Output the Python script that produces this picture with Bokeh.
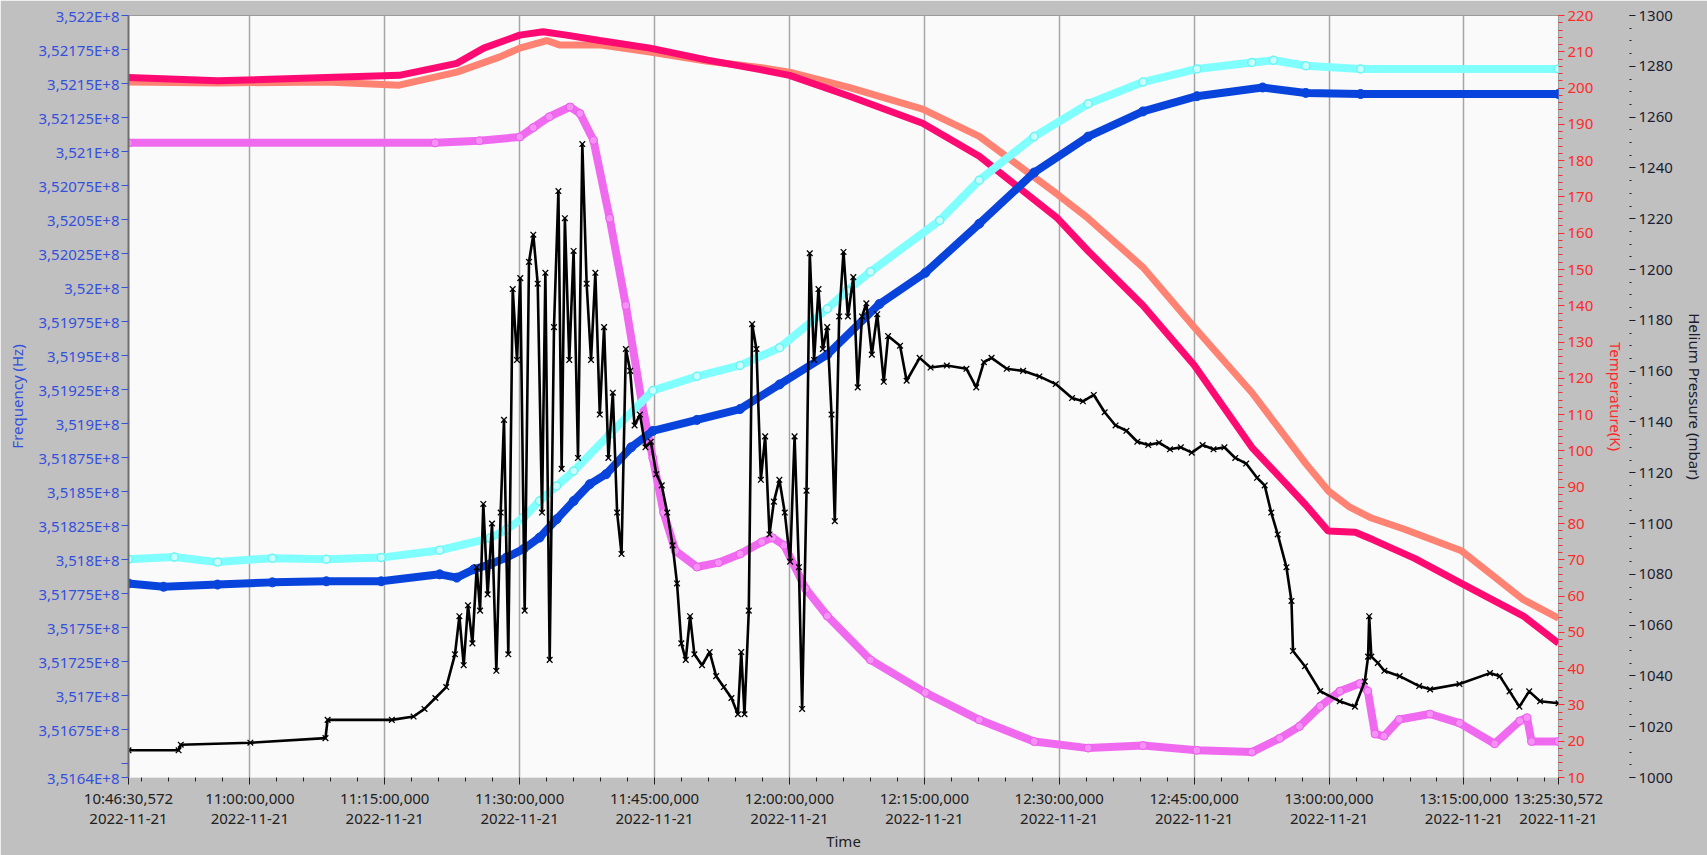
import pandas as pd
from bokeh.plotting import figure
from bokeh.models import Range1d, LinearAxis, FixedTicker, Grid
from bokeh.embed import file_html
from bokeh.resources import INLINE

# ---------------- data ----------------
START = "2022-11-21 10:46:30.572"
END = "2022-11-21 13:25:30.572"

X_TICK_TIMES = ["2022-11-21 10:46:30.572", "2022-11-21 11:00:00", "2022-11-21 11:15:00",
                "2022-11-21 11:30:00", "2022-11-21 11:45:00", "2022-11-21 12:00:00",
                "2022-11-21 12:15:00", "2022-11-21 12:30:00", "2022-11-21 12:45:00",
                "2022-11-21 13:00:00", "2022-11-21 13:15:00", "2022-11-21 13:25:30.572"]
X_TICK_LABELS = ["10:46:30,572\n2022-11-21", "11:00:00,000\n2022-11-21", "11:15:00,000\n2022-11-21",
                 "11:30:00,000\n2022-11-21", "11:45:00,000\n2022-11-21", "12:00:00,000\n2022-11-21",
                 "12:15:00,000\n2022-11-21", "12:30:00,000\n2022-11-21", "12:45:00,000\n2022-11-21",
                 "13:00:00,000\n2022-11-21", "13:15:00,000\n2022-11-21", "13:25:30,572\n2022-11-21"]

FREQ_TICKS = [351640000, 351650000, 351675000, 351700000, 351725000, 351750000, 351775000,
              351800000, 351825000, 351850000, 351875000, 351900000, 351925000, 351950000,
              351975000, 352000000, 352025000, 352050000, 352075000, 352100000, 352125000,
              352150000, 352175000, 352200000]
FREQ_TICK_LABELS = ["3,5164E+8", "", "3,51675E+8", "3,517E+8", "3,51725E+8", "3,5175E+8", "3,51775E+8",
                    "3,518E+8", "3,51825E+8", "3,5185E+8", "3,51875E+8", "3,519E+8", "3,51925E+8", "3,5195E+8",
                    "3,51975E+8", "3,52E+8", "3,52025E+8", "3,5205E+8", "3,52075E+8", "3,521E+8", "3,52125E+8",
                    "3,5215E+8", "3,52175E+8", "3,522E+8"]
TEMP_TICKS = [10, 20, 30, 40, 50, 60, 70, 80, 90, 100, 110, 120, 130, 140, 150, 160, 170, 180, 190, 200, 210, 220]
PRESS_TICKS = [1000, 1020, 1040, 1060, 1080, 1100, 1120, 1140, 1160, 1180, 1200, 1220, 1240, 1260, 1280, 1300]

# minutes after 10:46:30.572
PINK_MIN = [0, 9.9, 22.0, 30.1, 36.5, 39.5, 43.5, 46.1, 48.7, 52.4, 58.0, 64.4, 70.4, 73.5, 80.1, 88.3,
            94.6, 103.3, 106.7, 112.8, 118.5, 124.9, 130.9, 133.4, 136.4, 138.4, 143.0, 148.2, 155.1, 159.0]
PINK_K = [202.9, 202.0, 202.9, 203.5, 206.8, 211.0, 214.6, 215.5, 214.6, 213.1, 211.0, 207.7, 205.0, 203.5,
          197.8, 190.3, 181.2, 164.1, 155.1, 140.1, 123.6, 101.0, 85.1, 77.9, 77.6, 75.5, 70.4, 63.5, 54.5, 47.0]

SALMON_MIN = [0, 9.9, 22.0, 30.1, 36.5, 41.3, 43.5, 46.5, 47.9, 52.4, 58.0, 64.4, 70.4, 73.5, 80.1, 88.3,
              94.6, 103.3, 106.7, 112.8, 118.5, 124.9, 130.9, 133.4, 135.8, 138.2, 141.8, 148.2, 155.1, 159.0]
SALMON_K = [201.7, 201.4, 201.7, 200.8, 204.4, 208.6, 211.0, 213.1, 211.9, 211.9, 209.9, 207.4, 205.6, 204.4,
            200.2, 194.2, 186.7, 170.7, 164.1, 150.6, 134.1, 116.1, 96.5, 89.0, 84.5, 81.5, 78.5, 72.5, 59.0, 53.9]

MAG_MIN = [0, 34.1, 39.0, 43.5, 45.0, 46.8, 49.1, 50.2, 51.7, 53.5, 55.3, 57.1, 58.3, 59.5, 60.8, 63.2,
           65.6, 68.0, 70.4, 71.6, 72.9, 75.3, 77.7, 82.5, 88.6, 94.6, 100.7, 106.7, 112.8, 118.8, 124.9,
           128.0, 130.2, 132.5, 134.7, 136.9, 137.8, 138.6, 139.6, 141.3, 144.7, 148.0, 151.9, 154.7,
           155.5, 156.0, 159.0]
MAG_K = [184.9, 184.9, 185.5, 186.5, 189.1, 192.1, 194.8, 193.0, 185.6, 164.1, 140.1, 113.0, 98.0, 83.0,
         72.5, 68.0, 69.2, 71.6, 74.9, 76.1, 74.0, 62.0, 54.5, 42.4, 33.4, 25.9, 19.9, 18.1, 18.8, 17.5,
         17.0, 20.8, 24.1, 29.6, 33.8, 35.9, 33.8, 22.0, 21.4, 26.0, 27.5, 25.0, 19.3, 25.6, 26.5, 19.9, 19.9]

CYAN_MIN = [0, 5.1, 9.9, 16.0, 22.0, 28.1, 34.6, 40.2, 42.0, 43.9, 45.7, 47.6, 49.5, 53.5, 58.3, 63.2,
            68.0, 72.4, 77.7, 79.9, 82.5, 90.2, 94.6, 100.7, 106.7, 112.8, 118.8, 124.9, 127.3, 130.9,
            137.0, 159.0]
CYAN_HZ = [351800400, 351802000, 351798300, 351801200, 351800400, 351801600, 351807000, 351816000,
           351822000, 351831000, 351843200, 351854300, 351865300, 351892300, 351924400, 351934800,
           351942800, 351955900, 351984500, 351997800, 352011700, 352049400, 352079000, 352111000,
           352135100, 352151100, 352160700, 352165500, 352167100, 352163100, 352160700, 352160700]

BLUE_MIN = [0, 3.9, 9.9, 16.0, 22.0, 28.1, 34.6, 36.5, 38.4, 40.2, 42.0, 43.9, 45.7, 47.6, 49.5, 51.3,
            53.1, 55.9, 58.3, 63.2, 68.0, 72.4, 77.7, 83.5, 88.6, 94.6, 100.7, 106.7, 112.8, 118.8,
            126.1, 130.9, 137.0, 159.0]
BLUE_HZ = [351782600, 351780200, 351781800, 351783400, 351784200, 351784200, 351789300, 351786900,
           351793000, 351796700, 351801600, 351807800, 351816300, 351829800, 351843200, 351855600,
           351862900, 351882700, 351894700, 351902800, 351910800, 351928900, 351950800, 351988000,
           352010900, 352047000, 352084600, 352111000, 352129500, 352140700, 352147100, 352143100,
           352142300, 352142300]

PRESS_MIN = [0, 5.57, 5.81, 13.55, 21.90, 22.14, 29.28, 31.70, 32.91, 34.12, 35.33, 36.30, 36.79, 37.27,
             37.75, 38.24, 38.72, 39.09, 39.45, 39.93, 40.42, 40.90, 41.38, 41.75, 42.23, 42.72, 43.20,
             43.56, 44.05, 44.53, 45.01, 45.50, 45.98, 46.35, 46.83, 47.31, 47.80, 48.16, 48.52, 49.01,
             49.49, 49.98, 50.46, 50.94, 51.43, 51.91, 52.40, 52.88, 53.36, 53.85, 54.33, 54.82, 55.30,
             55.78, 56.27, 56.87, 57.48, 58.08, 58.69, 59.29, 59.90, 60.50, 60.99, 61.47, 61.96, 62.44,
             62.92, 63.77, 64.62, 65.34, 66.19, 67.04, 67.76, 68.13, 68.49, 68.97, 69.34, 69.82, 70.31,
             70.79, 71.27, 71.76, 72.37, 72.97, 73.57, 74.06, 74.54, 74.90, 75.39, 75.75, 76.23, 76.72,
             77.20, 77.69, 78.17, 78.53, 79.02, 79.50, 79.99, 80.59, 81.08, 81.56, 82.04, 82.65, 83.25,
             83.98, 84.46, 85.79, 86.52, 87.97, 89.18, 90.99, 93.17, 94.26, 95.11, 95.96, 97.65, 99.47,
             101.28, 103.10, 104.91, 106.12, 107.33, 108.54, 109.75, 110.96, 112.17, 113.38, 114.59,
             115.80, 117.01, 118.22, 119.43, 120.64, 121.85, 123.06, 124.27, 125.48, 126.33, 127.06,
             127.78, 128.75, 129.31, 129.48, 130.81, 132.50, 134.68, 136.37, 137.46, 137.83, 137.95,
             138.19, 138.91, 139.64, 141.34, 143.51, 144.72, 147.99, 151.38, 152.47, 153.56, 154.65,
             155.74, 156.95, 159.0]
PRESS_MBAR = [1010.7, 1010.7, 1012.9, 1013.7, 1015.5, 1022.7, 1022.7, 1024.0, 1027.0, 1031.3, 1035.6,
              1048.5, 1063.5, 1044.2, 1067.8, 1052.8, 1082.8, 1065.7, 1107.7, 1072.1, 1100.0, 1042.0,
              1104.3, 1140.8, 1048.5, 1192.3, 1164.4, 1196.6, 1065.7, 1203.0, 1213.7, 1194.4, 1104.3,
              1198.7, 1046.3, 1177.3, 1230.9, 1121.5, 1220.2, 1164.4, 1207.3, 1125.8, 1249.4, 1194.4,
              1164.4, 1198.7, 1142.9, 1177.3, 1125.8, 1151.5, 1104.3, 1088.0, 1168.7, 1160.1, 1138.6,
              1142.9, 1130.0, 1132.2, 1119.4, 1115.0, 1104.3, 1091.4, 1076.4, 1052.8, 1046.3, 1063.5,
              1048.5, 1044.2, 1049.4, 1039.9, 1035.6, 1031.3, 1024.9, 1049.4, 1024.9, 1065.7, 1178.5,
              1168.7, 1117.2, 1134.3, 1095.7, 1108.6, 1117.2, 1104.3, 1085.0, 1134.3, 1082.8, 1027.0,
              1112.9, 1206.4, 1164.4, 1192.3, 1168.7, 1177.3, 1142.9, 1100.9, 1181.5, 1206.9, 1181.5,
              1197.0, 1153.6, 1181.5, 1186.7, 1166.5, 1182.4, 1155.8, 1173.8, 1170.0, 1156.2, 1165.2,
              1161.4, 1162.2, 1160.9, 1153.6, 1163.5, 1165.2, 1160.9, 1160.1, 1157.9, 1154.9, 1149.4,
              1148.1, 1150.6, 1143.8, 1138.6, 1136.5, 1132.2, 1130.9, 1131.8, 1129.2, 1130.0, 1127.9,
              1130.9, 1129.2, 1130.0, 1125.8, 1123.6, 1118.0, 1115.0, 1104.3, 1095.7, 1082.8, 1069.5,
              1049.8, 1043.8, 1034.0, 1030.0, 1027.9, 1037.8, 1047.6, 1063.5, 1047.6, 1045.1, 1042.0,
              1039.9, 1036.0, 1034.7, 1036.8, 1041.1, 1039.9, 1033.9, 1027.9, 1033.9, 1030.0, 1029.2]

# ---------------- helpers ----------------
def ms(ts):
    return int(pd.Timestamp(ts).value // 1_000_000)

T0, T1 = ms(START), ms(END)

def xs(minutes):
    return [T0 + int(round(m * 60000)) for m in minutes]

FONT = "Noto Sans"
BLUE_TXT = "#3450dc"
RED_TXT = "#ff2a2a"
DARK_TXT = "#1c1c30"

x_ticks = [ms(t) for t in X_TICK_TIMES]
x_minor = [ms("2022-11-21 10:48:00") + i * 180000 for i in range(53)]
xticker = FixedTicker(ticks=x_ticks, minor_ticks=x_minor)

p = figure(width=1707, height=855, output_backend="svg", toolbar_location=None,
           x_range=Range1d(T0, T1), y_range=Range1d(351640000, 352200000),
           x_axis_type=None, y_axis_type=None,
           min_border_left=128, min_border_right=148, min_border_top=15, min_border_bottom=78,
           background_fill_color="#fafafa", border_fill_color="#c0c0c0",
           outline_line_color="#9a9a9a", outline_line_width=1)
p.extra_y_ranges = {"temp": Range1d(10, 220), "press": Range1d(1000, 1300)}

p.add_layout(Grid(dimension=0, ticker=xticker, grid_line_color="#a6a6a6", grid_line_width=1.5))

def style_axis(ax, color, tick_color):
    ax.major_label_text_font = FONT
    ax.major_label_text_font_size = "15px"
    ax.major_label_text_color = color
    ax.axis_label_text_font = FONT
    ax.axis_label_text_font_size = "15px"
    ax.axis_label_text_font_style = "normal"
    ax.axis_label_text_color = color
    ax.major_tick_line_color = tick_color
    ax.minor_tick_line_color = tick_color

# x axis
xaxis = LinearAxis(ticker=xticker, axis_label="Time",
                   major_label_overrides=dict(zip(x_ticks, X_TICK_LABELS)))
style_axis(xaxis, "#202020", "#202020")
xaxis.major_label_text_line_height = 1.0
xaxis.major_tick_out = 7
xaxis.major_tick_in = 0
xaxis.minor_tick_out = 4
xaxis.minor_tick_in = 0
xaxis.major_label_standoff = 3
xaxis.axis_label_standoff = 0
xaxis.axis_line_color = "#e6e6e6"
p.add_layout(xaxis, "below")

# frequency axis (left)
faxis = LinearAxis(ticker=FixedTicker(ticks=FREQ_TICKS, minor_ticks=[]), axis_label="Frequency (Hz)",
                   major_label_overrides=dict(zip(FREQ_TICKS, FREQ_TICK_LABELS)))
style_axis(faxis, BLUE_TXT, BLUE_TXT)
faxis.major_tick_out = 7
faxis.major_tick_in = 0
faxis.major_label_standoff = 2
faxis.axis_label_standoff = 8
faxis.axis_line_color = "#6e6e6e"
faxis.axis_line_width = 2
p.add_layout(faxis, "left")

# temperature axis (right, inner)
taxis = LinearAxis(y_range_name="temp", axis_label="Temperature(K)",
                   ticker=FixedTicker(ticks=TEMP_TICKS, minor_ticks=list(range(10, 221, 2))))
style_axis(taxis, RED_TXT, RED_TXT)
taxis.major_tick_out = 6
taxis.major_tick_in = 0
taxis.minor_tick_out = 4
taxis.minor_tick_in = 0
taxis.major_label_standoff = 3
taxis.axis_label_standoff = 10
taxis.axis_line_color = None
p.add_layout(taxis, "right")

# pressure axis (right, outer)
paxis = LinearAxis(y_range_name="press", axis_label="Helium Pressure (mbar)",
                   ticker=FixedTicker(ticks=PRESS_TICKS, minor_ticks=list(range(1000, 1301, 5))))
style_axis(paxis, DARK_TXT, DARK_TXT)
paxis.major_tick_out = 6
paxis.major_tick_in = 0
paxis.minor_tick_out = 2
paxis.minor_tick_in = 0
paxis.major_label_standoff = 3
paxis.axis_label_standoff = 9
paxis.axis_line_color = None
p.add_layout(paxis, "right")

# ---------------- series ----------------
p.line(xs(SALMON_MIN), SALMON_K, y_range_name="temp", line_color="#ff8272", line_width=7)
p.line(xs(PINK_MIN), PINK_K, y_range_name="temp", line_color="#ff0a72", line_width=7)
p.line(xs(MAG_MIN), MAG_K, y_range_name="temp", line_color="#f06af0", line_width=8)
p.scatter(xs(MAG_MIN), MAG_K, y_range_name="temp", marker="circle", size=8,
          line_color="#ec5cec", fill_color="#f690f6", line_width=1)

p.line(xs(CYAN_MIN), CYAN_HZ, line_color="#80ffff", line_width=8)
p.scatter(xs(CYAN_MIN), CYAN_HZ, marker="circle", size=8, line_color="#6cf4f4",
          fill_color="#c8ffff", line_width=1.5)
p.line(xs(BLUE_MIN), BLUE_HZ, line_color="#0844dc", line_width=8)
p.scatter(xs(BLUE_MIN), BLUE_HZ, marker="circle", size=9, color="#0844dc")

p.line(xs(PRESS_MIN), PRESS_MBAR, y_range_name="press", line_color="black", line_width=2.6)
p.scatter(xs(PRESS_MIN), PRESS_MBAR, y_range_name="press", marker="x", size=8,
          line_color="black", line_width=1.3)

html = file_html(p, INLINE)
html = html.replace("<head>", "<head><style>html,body{margin:0;padding:0;}</style>", 1)
open("out.html", "w").write(html)
